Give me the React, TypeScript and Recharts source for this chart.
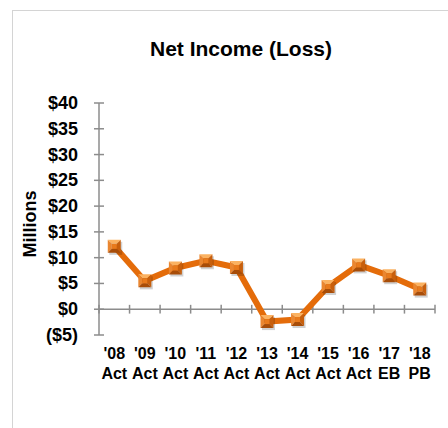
import { LineChart, Line, XAxis, YAxis, ReferenceLine } from "recharts";

const YEARS = ["'08", "'09", "'10", "'11", "'12", "'13", "'14", "'15", "'16", "'17", "'18"];
const KINDS = ["Act", "Act", "Act", "Act", "Act", "Act", "Act", "Act", "Act", "EB", "PB"];
const NET_INCOME = [12.2, 5.5, 8.0, 9.4, 8.1, -2.4, -2.0, 4.4, 8.6, 6.5, 3.9];
const Y_TICKS = [-5, 0, 5, 10, 15, 20, 25, 30, 35, 40];
const X_BOUNDS = [-0.5, 0.5, 1.5, 2.5, 3.5, 4.5, 5.5, 6.5, 7.5, 8.5, 9.5, 10.5];

const data = NET_INCOME.map((v, i) => ({ idx: i, value: v }));

const FONT = "'Liberation Sans', Arial, sans-serif";
const AXIS = "#8c8c8c";
const ORANGE = "#e46c0a";

function money(v: number) {
  return v < 0 ? `($${-v})` : `$${v}`;
}

function YTick(props: any) {
  const { x, y, payload } = props;
  const ax = x + 21;
  return (
    <g>
      <line x1={ax - 5} x2={ax + 5} y1={y} y2={y} stroke={AXIS} strokeWidth={1.5} />
      <text x={x} y={y} dy={6} textAnchor="end" fontFamily={FONT} fontSize={18} fontWeight="bold" fill="#000">
        {money(payload.value)}
      </text>
    </g>
  );
}

function XTick(props: any) {
  const { x, y, payload } = props;
  const i = payload.value;
  return (
    <text x={x} y={y} textAnchor="middle" fontFamily={FONT} fontSize={16} fontWeight="bold" fill="#000">
      <tspan x={x} dy={24}>{YEARS[i]}</tspan>
      <tspan x={x} dy={20}>{KINDS[i]}</tspan>
    </text>
  );
}

// bevelled square marker, like the office chart style
function Marker(props: any) {
  const { cx, cy } = props;
  if (cx == null || cy == null) return null;
  const s = 6.5;
  const t = 2.5;
  const l = cx - s, r = cx + s, tp = cy - s, b = cy + s;
  return (
    <g>
      <rect x={l + 1.5} y={tp + 2} width={2 * s} height={2 * s} fill="#000" opacity={0.18} />
      <polygon points={`${l},${tp} ${r},${tp} ${cx + t},${cy - t} ${cx - t},${cy - t}`} fill="#fbb261" />
      <polygon points={`${l},${tp} ${cx - t},${cy - t} ${cx - t},${cy + t} ${l},${b}`} fill="#ea8630" />
      <polygon points={`${r},${tp} ${r},${b} ${cx + t},${cy + t} ${cx + t},${cy - t}`} fill="#c85f0c" />
      <polygon points={`${l},${b} ${cx - t},${cy + t} ${cx + t},${cy + t} ${r},${b}`} fill="#a84d08" />
      <rect x={cx - t} y={cy - t} width={2 * t} height={2 * t} fill="#e87a1c" />
    </g>
  );
}

export default function App() {
  return (
    <div style={{ position: "absolute", left: 0, top: 0, width: 448, height: 428, background: "#fff", overflow: "hidden" }}>
      <div
        style={{
          position: "absolute",
          left: 12,
          top: 10,
          width: 460,
          height: 440,
          borderLeft: "1px solid #d4d4d4",
          borderTop: "1px solid #d4d4d4",
        }}
      />
      <div
        style={{
          position: "absolute",
          left: 50,
          top: 36,
          width: 382,
          textAlign: "center",
          fontFamily: FONT,
          fontSize: 21,
          fontWeight: "bold",
          color: "#000",
          lineHeight: "26px",
        }}
      >
        Net Income (Loss)
      </div>
      <div style={{ position: "absolute", left: 0, top: 0 }}>
        <LineChart width={448} height={428} data={data} margin={{ top: 103, right: 13, bottom: 43, left: 39 }}>
          <XAxis
            type="number"
            dataKey="idx"
            domain={[-0.5, 10.5]}
            ticks={YEARS.map((_, i) => i)}
            axisLine={false}
            tickLine={false}
            tickSize={0}
            tickMargin={0}
            height={50}
            interval={0}
            tick={<XTick />}
          />
          <YAxis
            domain={[-5, 40]}
            ticks={Y_TICKS}
            width={60}
            axisLine={{ stroke: AXIS, strokeWidth: 1.5 }}
            tickLine={false}
            tickSize={0}
            tickMargin={21}
            interval={0}
            tick={<YTick />}
            label={{
              content: (p: any) => (
                <text
                  x={p.viewBox.x - 9}
                  y={p.viewBox.y + p.viewBox.height / 2 + 5}
                  transform={`rotate(-90 ${p.viewBox.x - 9} ${p.viewBox.y + p.viewBox.height / 2 + 5})`}
                  textAnchor="middle"
                  dominantBaseline="central"
                  fontFamily={FONT}
                  fontSize={18}
                  fontWeight="bold"
                  fill="#000"
                >
                  Millions
                </text>
              ),
            }}
          />
          <ReferenceLine y={0} stroke={AXIS} strokeWidth={1.5} />
          {X_BOUNDS.map((b) => (
            <ReferenceLine
              key={b}
              segment={[
                { x: b, y: -0.85 },
                { x: b, y: 0.85 },
              ]}
              stroke={AXIS}
              strokeWidth={1.5}
              ifOverflow="visible"
            />
          ))}
          <Line
            type="linear"
            dataKey="value"
            stroke={ORANGE}
            strokeWidth={6}
            dot={<Marker />}
            activeDot={false}
            isAnimationActive={false}
          />
        </LineChart>
      </div>
    </div>
  );
}
